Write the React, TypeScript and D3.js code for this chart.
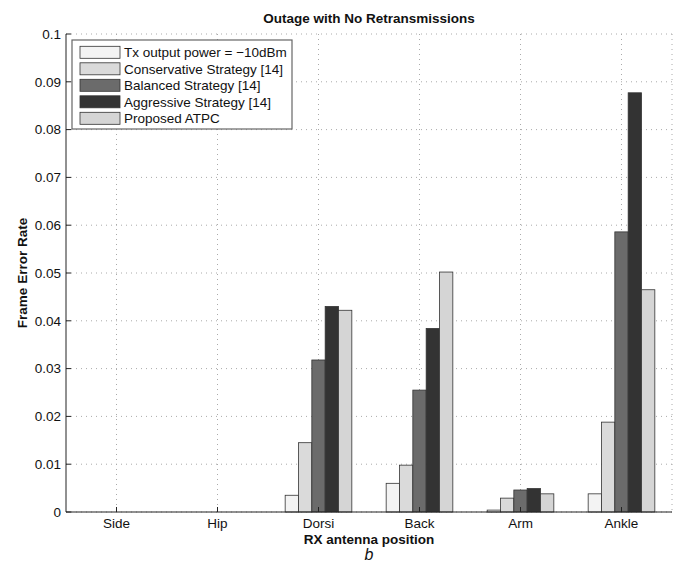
import React from "react";
import * as d3 from "d3";

const categories = ["Side", "Hip", "Dorsi", "Back", "Arm", "Ankle"];
const seriesNames = [
  "Tx output power = \u221210dBm",
  "Conservative Strategy [14]",
  "Balanced Strategy [14]",
  "Aggressive Strategy [14]",
  "Proposed ATPC",
];
const txValues = [0, 0, 0.0035, 0.006, 0.0004, 0.0038];
const conservativeValues = [0, 0, 0.0145, 0.0098, 0.0029, 0.0188];
const balancedValues = [0, 0, 0.0318, 0.0255, 0.0046, 0.0586];
const aggressiveValues = [0, 0, 0.043, 0.0384, 0.0049, 0.0877];
const atpcValues = [0, 0, 0.0422, 0.0502, 0.0038, 0.0465];
const yTicks = [0, 0.01, 0.02, 0.03, 0.04, 0.05, 0.06, 0.07, 0.08, 0.09, 0.1];
const colors = ["#f3f3f3", "#dadada", "#6b6b6b", "#333333", "#d5d5d5"];

const series = [txValues, conservativeValues, balancedValues, aggressiveValues, atpcValues];

export default function App() {
  const W = 680, H = 563;
  const L = 66, R = 672, T = 34, B = 512;
  const x = d3.scaleBand<string>().domain(categories).range([L, R]).padding(0);
  const y = d3.scaleLinear().domain([0, 0.1]).range([B, T]);
  const groupW = x.bandwidth() * 0.66;
  const inner = d3.scaleBand<number>().domain(d3.range(series.length)).range([0, groupW]).padding(0);
  const font = "'Liberation Sans', Arial, Helvetica, sans-serif";
  const fs = 13.5;

  return (
    <svg width={W} height={H} style={{ position: "absolute", left: 0, top: 0, background: "#fff" }} fontFamily={font}>
      {/* grid */}
      {yTicks.map((t) => (
        <line key={"gy" + t} x1={L} x2={R} y1={y(t)} y2={y(t)} stroke="#aaa" strokeWidth={1} strokeDasharray="1,4" />
      ))}
      {categories.map((c) => (
        <line key={"gx" + c} x1={x(c)! + x.bandwidth() / 2} x2={x(c)! + x.bandwidth() / 2} y1={T} y2={B} stroke="#aaa" strokeWidth={1} strokeDasharray="1,4" />
      ))}
      <line x1={R} x2={R} y1={T} y2={B} stroke="#aaa" strokeDasharray="1,4" />
      {/* bars */}
      {categories.map((c, ci) => (
        <g key={"g" + c} transform={`translate(${x(c)! + (x.bandwidth() - groupW) / 2},0)`}>
          {series.map((s, si) => (
            <rect
              key={si}
              x={inner(si)!}
              width={inner.bandwidth()}
              y={y(s[ci])}
              height={B - y(s[ci])}
              fill={colors[si]}
              stroke="#333"
              strokeWidth={0.8}
            />
          ))}
        </g>
      ))}
      {/* axes */}
      <line x1={L} x2={L} y1={T} y2={B} stroke="#222" strokeWidth={1} />
      <line x1={L} x2={R} y1={B} y2={B} stroke="#222" strokeWidth={1} />
      {yTicks.map((t) => (
        <g key={"ty" + t}>
          <line x1={L} x2={L + 5} y1={y(t)} y2={y(t)} stroke="#222" />
          <text x={L - 5} y={y(t)} dy="0.35em" textAnchor="end" fontSize={fs} fill="#111">
            {t === 0 ? "0" : d3.format("")(+t.toFixed(2))}
          </text>
        </g>
      ))}
      {categories.map((c) => (
        <g key={"tx" + c}>
          <line x1={x(c)! + x.bandwidth() / 2} x2={x(c)! + x.bandwidth() / 2} y1={B} y2={B - 5} stroke="#222" />
          <text x={x(c)! + x.bandwidth() / 2} y={528} textAnchor="middle" fontSize={fs} fill="#111">{c}</text>
        </g>
      ))}
      {/* title & labels */}
      <text x={(L + R) / 2} y={23} textAnchor="middle" fontSize={fs} fontWeight="bold" fill="#111">Outage with No Retransmissions</text>
      <text x={(L + R) / 2} y={544} textAnchor="middle" fontSize={fs} fontWeight="bold" fill="#111">RX antenna position</text>
      <text x={(L + R) / 2} y={560} textAnchor="middle" fontSize={16} fontStyle="italic" fill="#111">b</text>
      <text transform={`translate(27,${(T + B) / 2}) rotate(-90)`} textAnchor="middle" fontSize={fs} fontWeight="bold" fill="#111">Frame Error Rate</text>
      {/* legend */}
      <rect x={72} y={40} width={220} height={89} fill="#fff" stroke="#666" strokeWidth={1.2} />
      {seriesNames.map((n, i) => (
        <g key={"l" + i} transform={`translate(0,${52.3 + i * 16.5})`}>
          <rect x={80} y={-6} width={40} height={12} fill={colors[i]} stroke="#333" strokeWidth={0.8} />
          <text x={124} y={0} dy="0.35em" fontSize={fs} fill="#111">{n}</text>
        </g>
      ))}
    </svg>
  );
}
